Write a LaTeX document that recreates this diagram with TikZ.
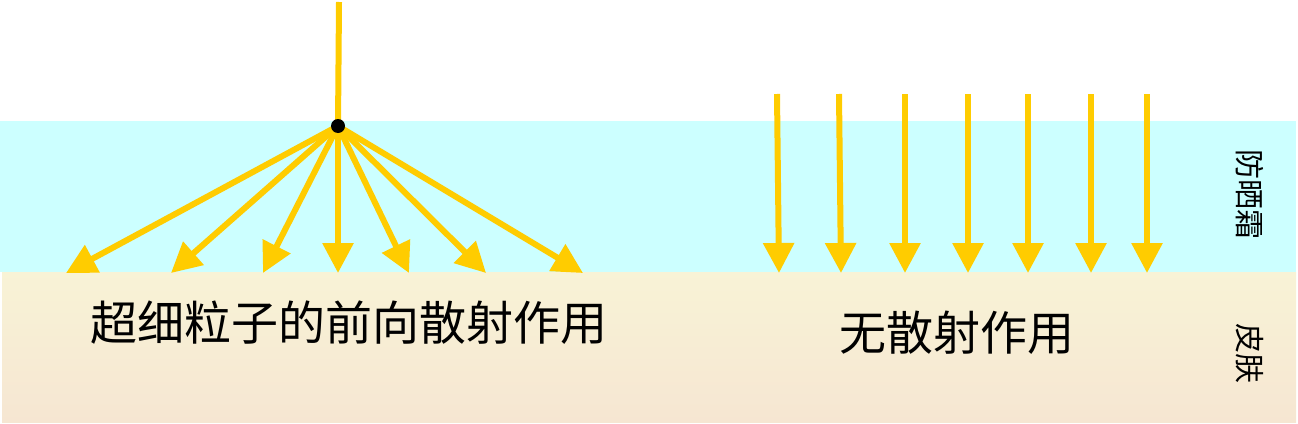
\documentclass[tikz,border=0pt]{standalone}
\usepackage{fontspec}
\newfontfamily\cjk{Noto Sans CJK SC}
\usetikzlibrary{arrows.meta}
\definecolor{cream}{HTML}{CCFFFF}
\definecolor{skintop}{HTML}{F8F3D6}
\definecolor{skinbot}{HTML}{F6E6D2}
\definecolor{ray}{HTML}{FFCC00}
\tikzset{
  rayline/.style={draw=ray, line width=6pt},
  rayarrow/.style={rayline, -{Triangle[length=30pt,width=30pt]}},
  dotnode/.style={circle, fill=black, inner sep=0pt, minimum size=14pt},
  bigtext/.style={font=\cjk\fontsize{47}{47}\selectfont, inner sep=0pt},
  sidetext/.style={font=\cjk\fontsize{30}{30}\selectfont, inner sep=0pt, rotate=-90}
}
\begin{document}
\begin{tikzpicture}[x=1pt,y=-1pt]
\useasboundingbox (0,0) rectangle (1298,423);
% layers
\fill[cream] (0,121) rectangle (1296,272);
\shade[top color=skintop, bottom color=skinbot] (2,272) rectangle (1296,422);
% scattering
\coordinate (P) at (338,126);
\coordinate (src) at (339,2);
\draw[rayline] (src) -- (P);
\coordinate (t1) at (66,273);
\coordinate (t2) at (171,273);
\coordinate (t3) at (263,273);
\coordinate (t4) at (338,273);
\coordinate (t5) at (409,273);
\coordinate (t6) at (486,273);
\coordinate (t7) at (583,273);
\foreach \t in {t1,t2,t3,t4,t5,t6,t7}{
  \draw[rayarrow] (P) -- (\t);
}
\node[dotnode] (dot) at (P) {};
% direct rays
\foreach \i/\xa/\xb in {1/777/779, 2/839/841, 3/905/905, 4/968/968, 5/1028/1028, 6/1091/1091, 7/1147/1147}{
  \coordinate (a\i) at (\xa,94);
  \coordinate (b\i) at (\xb,273);
  \draw[rayarrow] (a\i) -- (b\i);
}
% labels
\node[bigtext] (lab1) at (349,323) {超细粒子的前向散射作用};
\node[bigtext] (lab2) at (957,333) {无散射作用};
\node[sidetext] (lab3) at (1250,194) {防晒霜};
\node[sidetext] (lab4) at (1250,353) {皮肤};
\end{tikzpicture}
\end{document}
